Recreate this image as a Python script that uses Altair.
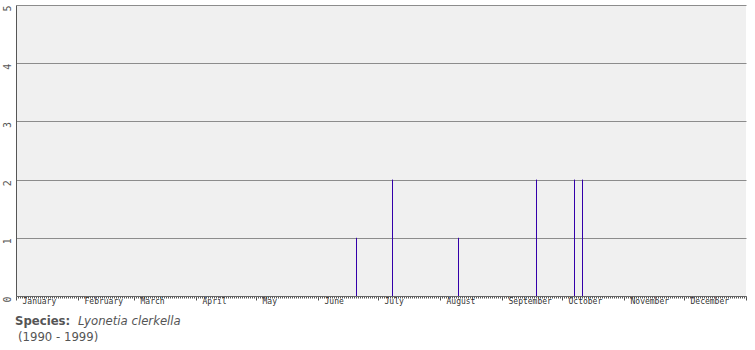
import altair as alt
import pandas as pd

dates = ["2001-06-20", "2001-07-08", "2001-08-10", "2001-09-18", "2001-10-07", "2001-10-11"]
counts = [1, 2, 1, 2, 2, 2]
y_ticks = [0, 1, 2, 3, 4, 5]
species_label = "Species:"
species_name = "Lyonetia clerkella"
years = "(1990 - 1999)"

df = pd.DataFrame({"date": dates, "count": counts})

xscale = alt.Scale(type="utc", domain=["2001-01-01T00:00:00Z", "2002-01-01T00:00:00Z"], nice=False)

bars = alt.Chart(df).mark_rule(color="#3300aa", strokeWidth=1, xOffset=0.5).encode(
    x=alt.X(
        "date:T",
        scale=xscale,
        title=None,
        axis=alt.Axis(
            tickCount={"interval": "day", "step": 1},
            labelExpr="(utcdate(datum.value) == 1 && utcyear(datum.value) == 2001) ? utcFormat(datum.value, '%B') : ''",
            labelAlign="left",
            labelOffset=6,
            labelPadding=-3,
            labelBaseline="top",
            labelOverlap=False,
            labelBound=False,
            labelFlush=False,
            labelFont="DejaVu Sans Mono",
            labelFontSize=8,
            labelColor="#333333",
            tickSize={"condition": {"test": "utcdate(datum.value) == 1", "value": 4}, "value": 2},
            tickColor="#555555",
            tickWidth=1,
            domainColor="#666666",
            grid=False,
        ),
    ),
    y=alt.Y(
        "count:Q",
        scale=alt.Scale(domain=[0, 5], nice=False),
        title=None,
        axis=alt.Axis(
            values=y_ticks,
            grid=True,
            gridColor="#8c8c8c",
            gridWidth=1,
            tickSize=0,
            labelAngle=270,
            labelAlign="right",
            labelBaseline="middle",
            labelPadding=9,
            labelFont="DejaVu Sans Mono",
            labelFontSize=10,
            labelColor="#555555",
            domainColor="#555555",
        ),
    ),
    y2=alt.datum(0),
)

txt_df = pd.DataFrame({"a": [species_label], "b": [species_name], "c": [years]})

t1 = alt.Chart(txt_df).mark_text(
    align="left", baseline="alphabetic", font="DejaVu Sans", fontWeight="bold", fontSize=11.7, color="#555555"
).encode(text="a:N", x=alt.value(-1), y=alt.value(320))
t2 = alt.Chart(txt_df).mark_text(
    align="left", baseline="alphabetic", font="DejaVu Sans", fontStyle="italic", fontSize=11.7, color="#555555"
).encode(text="b:N", x=alt.value(62), y=alt.value(320))
t3 = alt.Chart(txt_df).mark_text(
    align="left", baseline="alphabetic", font="DejaVu Sans", fontSize=11.7, color="#555555"
).encode(text="c:N", x=alt.value(2), y=alt.value(336))

chart = alt.layer(bars, t1, t2, t3).properties(
    width=730,
    height=291,
    autosize=alt.AutoSizeParams(type="none"),
    padding={"left": 16, "top": 5, "right": 9, "bottom": 54},
    background="white",
).configure_view(fill="#f0f0f0", stroke=None)

chart.save("out.html", embed_options={"renderer": "svg", "actions": False})
